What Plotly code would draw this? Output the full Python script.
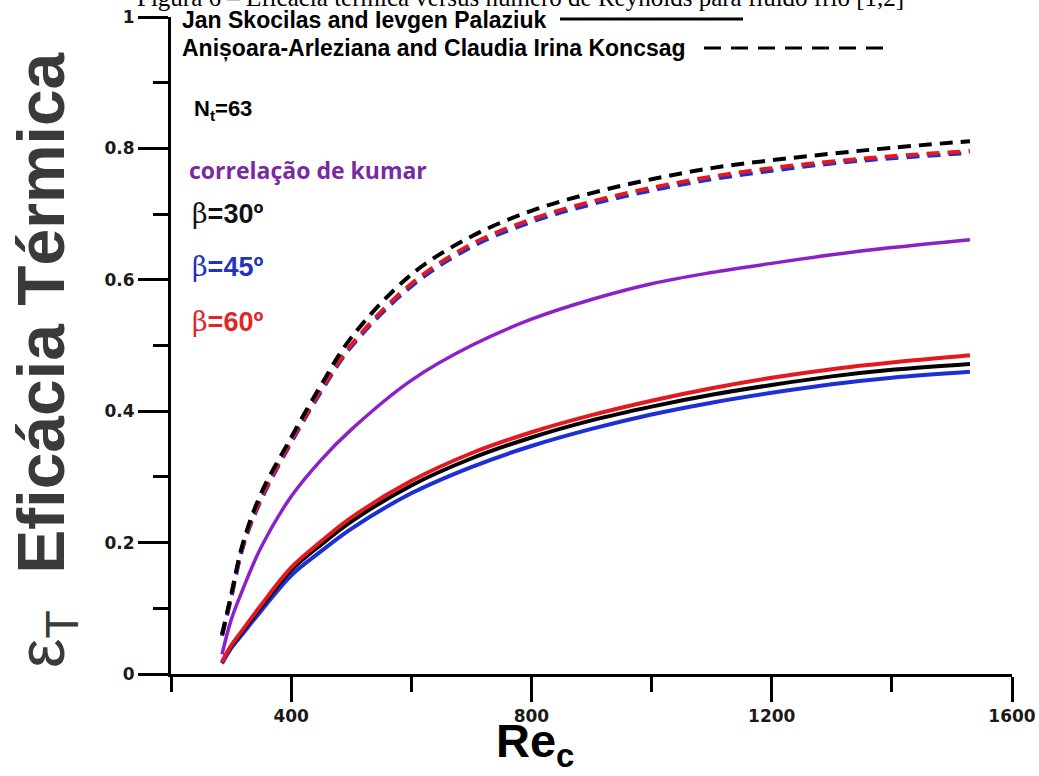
import plotly.graph_objects as go

# ---------------- data ----------------
re_c = [285, 300, 320, 350, 400, 450, 500, 600, 700, 800, 900, 1000, 1100, 1200, 1300, 1400, 1530]

# Jan Skocilas and Ievgen Palaziuk (solid)
jan_b30 = [0.018, 0.042, 0.066, 0.102, 0.158, 0.197, 0.232, 0.287, 0.328, 0.360, 0.386, 0.407, 0.425, 0.440, 0.453, 0.463, 0.472]
jan_b45 = [0.016, 0.039, 0.062, 0.096, 0.150, 0.187, 0.221, 0.275, 0.315, 0.347, 0.373, 0.395, 0.413, 0.428, 0.441, 0.451, 0.460]
jan_b60 = [0.018, 0.043, 0.068, 0.105, 0.162, 0.202, 0.238, 0.294, 0.336, 0.368, 0.394, 0.416, 0.435, 0.451, 0.464, 0.474, 0.485]

# Anisoara-Arleziana and Claudia Irina Koncsag (dashed)
kon_b30 = [0.060, 0.120, 0.200, 0.275, 0.360, 0.440, 0.512, 0.608, 0.666, 0.705, 0.732, 0.753, 0.770, 0.782, 0.792, 0.801, 0.811]
kon_b45 = [0.058, 0.115, 0.194, 0.265, 0.352, 0.430, 0.498, 0.590, 0.650, 0.688, 0.715, 0.736, 0.753, 0.766, 0.777, 0.785, 0.793]
kon_b60 = [0.060, 0.118, 0.197, 0.268, 0.355, 0.433, 0.501, 0.594, 0.654, 0.692, 0.719, 0.740, 0.757, 0.770, 0.780, 0.788, 0.796]

# correlacao de Kumar
kumar = [0.030, 0.082, 0.130, 0.193, 0.270, 0.326, 0.372, 0.447, 0.500, 0.540, 0.570, 0.594, 0.611, 0.625, 0.638, 0.649, 0.661]

x_ticks = [400, 800, 1200, 1600]
y_ticks = [0, 0.2, 0.4, 0.6, 0.8, 1]
y_ticktext = ["0", "0.2", "0.4", "0.6", "0.8", "1"]

BLACK = "#000000"
BLUE = "#1f2fd6"
RED = "#e3191f"
PURPLE = "#8a22c8"

# ---------------- layout geometry ----------------
W, H = 1039, 776
L, R, T, B = 171, 27, 17, 102
PW, PH = W - L - R, H - T - B


def px(x):
    return (x - L) / PW


def py(y):
    return (H - B - y) / PH


fig = go.Figure()

dash = "13px,8px"
for y, c in [(kon_b45, BLUE), (kon_b60, RED), (kon_b30, BLACK)]:
    fig.add_trace(go.Scatter(x=re_c, y=y, mode="lines", line=dict(color=c, width=4, dash=dash, shape="spline"),
                             showlegend=False, hoverinfo="skip"))
fig.add_trace(go.Scatter(x=re_c, y=kumar, mode="lines", line=dict(color=PURPLE, width=3.5, shape="spline"),
                         showlegend=False, hoverinfo="skip"))
for y, c in [(jan_b45, BLUE), (jan_b30, BLACK), (jan_b60, RED)]:
    fig.add_trace(go.Scatter(x=re_c, y=y, mode="lines", line=dict(color=c, width=4, shape="spline"),
                             showlegend=False, hoverinfo="skip"))

tickfont = dict(family="DejaVu Sans, Liberation Sans, sans-serif", size=17, color="#1a1a1a", weight="bold")

fig.update_layout(
    width=W, height=H,
    margin=dict(l=L, r=R, t=T, b=B, autoexpand=False),
    paper_bgcolor="white", plot_bgcolor="white",
    xaxis=dict(range=[200, 1600], tickvals=x_ticks, ticks="outside", ticklen=25, tickwidth=3,
               tickcolor="black", showline=True, linewidth=3, linecolor="black", showgrid=False,
               zeroline=False, tickfont=tickfont, automargin=False,
               minor=dict(tickvals=[200, 600, 1000, 1400], ticks="outside", ticklen=15, tickwidth=3,
                          tickcolor="black", showgrid=False)),
    yaxis=dict(range=[0, 1], tickvals=y_ticks, ticktext=y_ticktext, ticks="outside", ticklen=30,
               tickwidth=3, tickcolor="black", showline=True, linewidth=3, linecolor="black",
               showgrid=False, zeroline=False, tickfont=tickfont, automargin=False,
               minor=dict(tickvals=[0.1, 0.3, 0.5, 0.7, 0.9], ticks="outside", ticklen=15, tickwidth=3,
                          tickcolor="black", showgrid=False)),
)

ann = []
# Cropped caption at the very top
ann.append(dict(text="Figura 6 – Eficácia térmica versus número de Reynolds para fluido frio [1,2]",
                x=px(520), y=py(-3), xref="paper", yref="paper", xanchor="center", yanchor="middle",
                showarrow=False, font=dict(family="Liberation Serif, Times New Roman, serif", size=25,
                                           color="black")))
# Y axis title
ann.append(dict(text="ε<sub>T</sub>  <b>Eficácia Térmica</b>", x=px(46), y=py(360), xref="paper", yref="paper",
                xanchor="center", yanchor="middle", textangle=-90, showarrow=False,
                font=dict(family="Liberation Sans, Arial, sans-serif", size=66, color="#3a3a3a")))
# X axis title
ann.append(dict(text="<b>Re<sub>c</sub></b>", x=px(535), y=py(744), xref="paper", yref="paper",
                xanchor="center", yanchor="middle", showarrow=False,
                font=dict(family="Liberation Sans, Arial, sans-serif", size=47, color="black")))

# Legend entries (top)
legfont = dict(family="Liberation Sans, Arial, sans-serif", size=23, color="black", weight="bold")
ann.append(dict(text="Jan Skocilas and Ievgen Palaziuk", x=px(180), y=py(20), xref="paper", yref="paper",
                xanchor="left", yanchor="middle", showarrow=False, font=legfont))
ann.append(dict(text="Anișoara-Arleziana and Claudia Irina Koncsag", x=px(180), y=py(48), xref="paper",
                yref="paper", xanchor="left", yanchor="middle", showarrow=False, font=legfont))

# Inner labels
sans_b = "Liberation Sans, Arial, sans-serif"
ann.append(dict(text="N<sub>t</sub>=63", x=px(192), y=py(110), xref="paper", yref="paper", xanchor="left",
                yanchor="middle", showarrow=False, font=dict(family=sans_b, size=22, color="black", weight="bold")))
ann.append(dict(text="correlação de kumar", x=px(187), y=py(170), xref="paper", yref="paper", xanchor="left",
                yanchor="middle", showarrow=False,
                font=dict(family="Open Sans, sans-serif", size=23, color="#7a2a9e", weight="bold")))
for label, yy, col in [("30", 213, "#111111"), ("45", 266, "#2233c0"), ("60", 321, "#e0262a")]:
    ann.append(dict(text="<span style='font-family:DejaVu Serif;font-weight:normal'>β</span><b>=" + label + "º</b>",
                    x=px(190), y=py(yy), xref="paper", yref="paper", xanchor="left", yanchor="middle",
                    showarrow=False, font=dict(family=sans_b, size=27, color=col)))

fig.update_layout(annotations=ann)

# Legend line samples
fig.add_shape(type="line", xref="paper", yref="paper", x0=px(560), x1=px(743), y0=py(19), y1=py(19),
              line=dict(color="black", width=3))
fig.add_shape(type="line", xref="paper", yref="paper", x0=px(704), x1=px(888), y0=py(48), y1=py(48),
              line=dict(color="black", width=3, dash="17px,10px"))

fig.write_html("out.html")
